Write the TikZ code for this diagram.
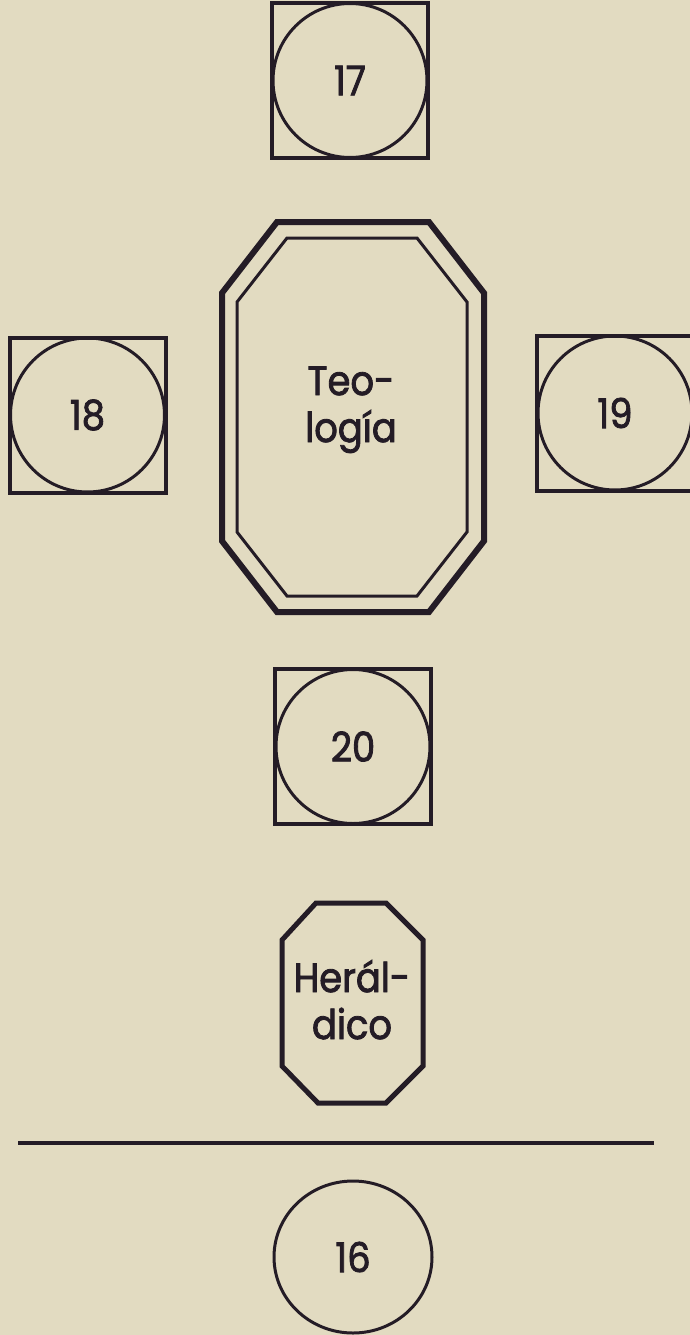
\documentclass[tikz,border=0pt]{standalone}
\usepackage{fontspec}
\setmainfont{Poppins}[FakeStretch=0.9, FakeBold=2]
\usetikzlibrary{shapes.geometric}
\definecolor{paper}{RGB}{226,219,193}
\definecolor{ink}{RGB}{36,28,38}
\begin{document}
\begin{tikzpicture}[x=1pt,y=-1pt,
  lbl/.style={text=ink, font=\fontsize{41}{47}\selectfont, inner sep=0pt},
  seatbox/.style={draw=ink, line width=4pt, rectangle, minimum width=156pt, minimum height=155pt, inner sep=0pt},
  roundtable/.style={draw=ink, line width=3pt, circle, minimum size=154pt, inner sep=0pt, lbl},
  octo/.style={draw=ink, line join=miter},
  rule/.style={draw=ink, line width=3.4pt}]
\useasboundingbox (0,0) rectangle (690,1335);
\clip (0,0) rectangle (690,1335);
\fill[paper] (0,0) rectangle (690,1335);

% 17
\node[seatbox] (s17) at (350,80.5) {};
\node[roundtable] (c17) at (350,80.5) {17};
% 18
\node[seatbox] (s18) at (87.5,415) {};
\node[roundtable] (c18) at (87.5,415) {18};
% 19
\node[seatbox] (s19) at (615,413) {};
\node[roundtable] (c19) at (615,413) {19};
% 20
\node[seatbox] (s20) at (353,746.5) {};
\node[roundtable] (c20) at (353,746.5) {20};

% Teologia table
\draw[octo, line width=6pt] (277,222) -- (429,222) -- (484,293) -- (484,541) -- (429,612) -- (277,612) -- (222,541) -- (222,293) -- cycle;
\draw[octo, line width=3pt] (287,238) -- (417,238) -- (467,302) -- (467,532) -- (417,596) -- (287,596) -- (237,532) -- (237,302) -- cycle;
\node[lbl, anchor=base] (teo) at (351,395) {\begin{tabular}[t]{@{}c@{}}Teo-\\logía\end{tabular}};

% Heraldico table
\draw[octo, line width=5pt] (316,903) -- (386,903) -- (423,940) -- (423,1066) -- (386,1103) -- (318,1103) -- (282,1066) -- (282,940) -- cycle;
\node[lbl, anchor=base] (her) at (352,992) {\begin{tabular}[t]{@{}c@{}}Herál-\\dico\end{tabular}};

% rule
\coordinate (L1) at (18,1143);
\coordinate (L2) at (654,1143);
\draw[rule] (L1) -- (L2);

% 16
\node[draw=ink, line width=3pt, ellipse, minimum width=158pt, minimum height=152pt, inner sep=0pt, lbl] (c16) at (353,1257) {16};
\end{tikzpicture}
\end{document}
